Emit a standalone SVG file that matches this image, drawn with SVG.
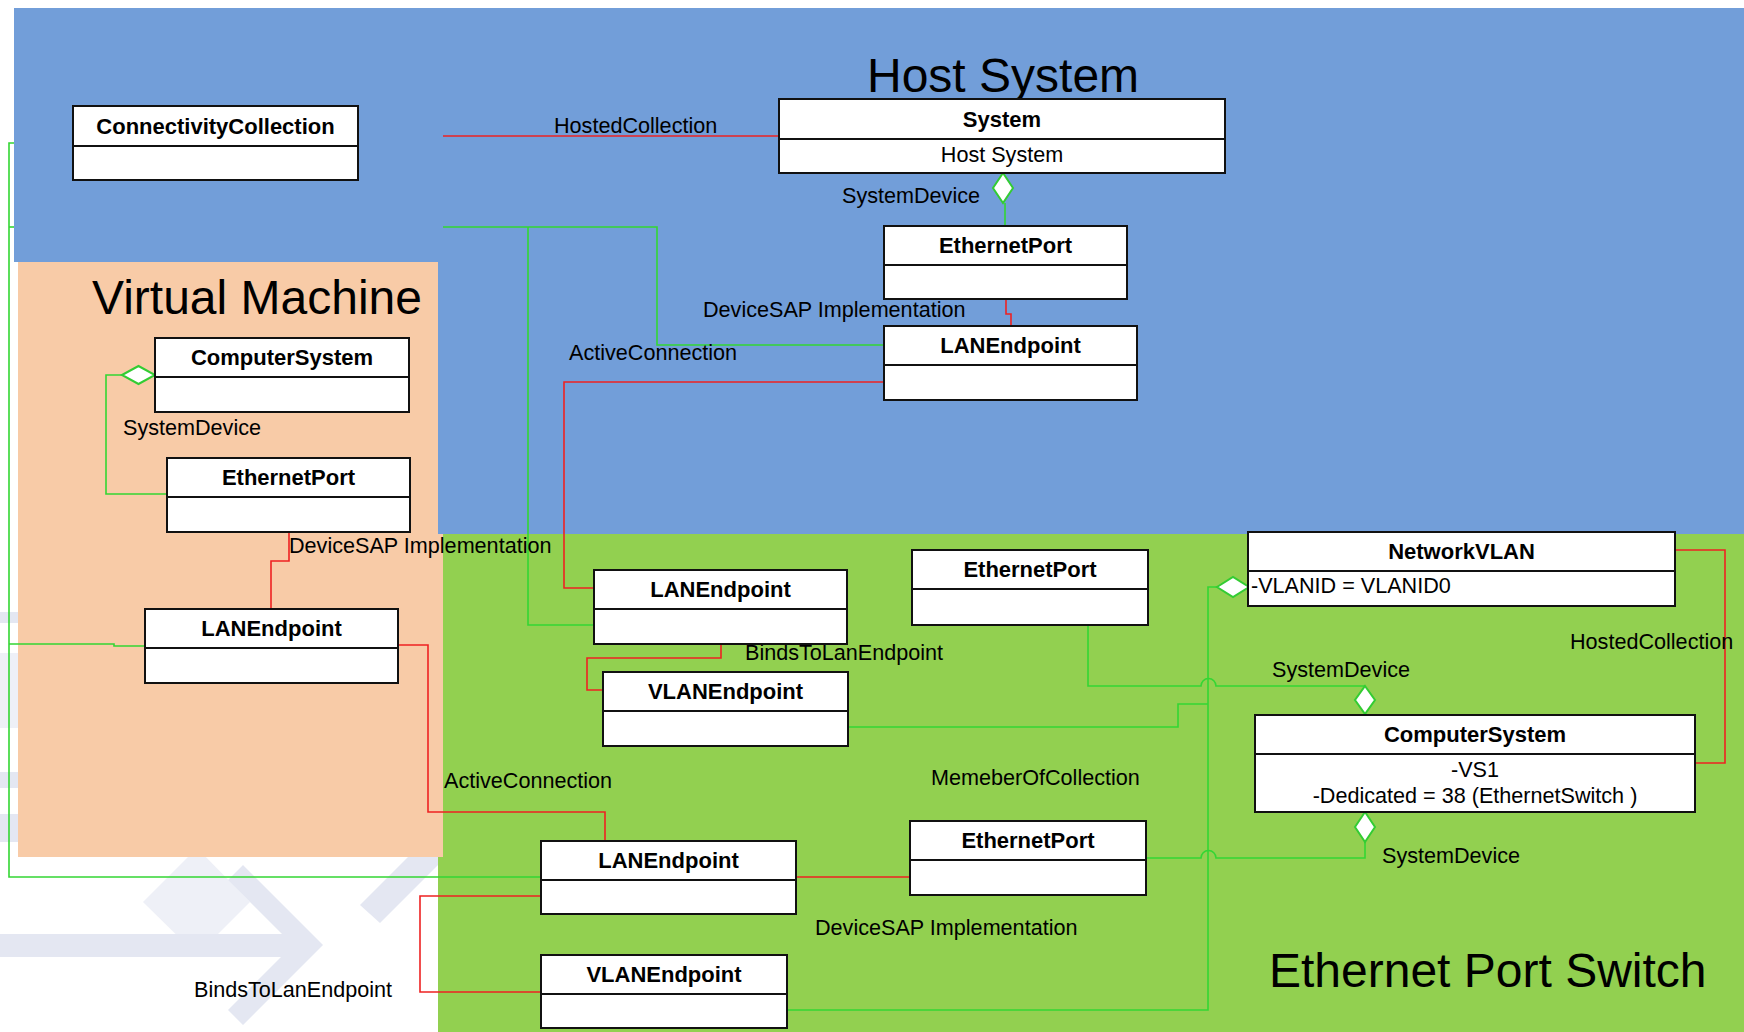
<svg xmlns="http://www.w3.org/2000/svg" width="1744" height="1032" viewBox="0 0 1744 1032">
<style>
.box{fill:#fff;stroke:#111;stroke-width:2}
.div{stroke:#111;stroke-width:2}
.hdr{font-family:"Liberation Sans",Arial,sans-serif;font-weight:bold;font-size:22px;fill:#000;text-anchor:middle}
.body{font-family:"Liberation Sans",Arial,sans-serif;font-size:21.6px;fill:#000}
.lbl{font-family:"Liberation Sans",Arial,sans-serif;font-size:21.6px;fill:#000}
.title{font-family:"Liberation Sans",Arial,sans-serif;font-size:48px;fill:#000}
.g{fill:none;stroke:#33d633;stroke-width:1.6}
.r{fill:none;stroke:#ee2222;stroke-width:1.6}
.dia{fill:#fff;stroke:#33cc33;stroke-width:2}
.wm{fill:#e4e7f2}
.wm2{fill:#eef0f7}
</style>
<rect x="0" y="0" width="1744" height="1032" fill="#fff"/>
<!-- watermark -->
<g id="watermark">
<rect class="wm" x="0" y="612" width="20" height="11"/>
<rect class="wm2" x="0" y="653" width="20" height="75"/>
<rect class="wm" x="0" y="772" width="20" height="16"/>
<rect class="wm" x="0" y="814" width="20" height="28"/>
<polygon class="wm2" points="143,902 197,848 250,902 197,955"/>
<rect class="wm" x="0" y="934" width="305" height="23"/>
<polygon class="wm" points="243,865 323,945 243,1025 228,1010 293,945 228,880"/>
<polygon class="wm" points="360,905 380,923 446,857 426,839"/>
</g>
<!-- regions -->
<polygon points="14,8 1744,8 1744,534 438,534 438,262 14,262" fill="#729ed9"/>
<rect x="438" y="534" width="1306" height="498" fill="#92d050"/>
<polygon points="18,262 438,262 438,534 443,534 443,857 18,857" fill="#f8cba7"/>
<text class="title" x="867" y="92">Host System</text>
<text class="title" x="92" y="314">Virtual Machine</text>
<text class="title" x="1269" y="987">Ethernet Port Switch</text>

<g id="connectors">
<path class="r" d="M443,136 H779"/>
<path class="g" d="M14,143 H9 V877 H541"/>
<path class="g" d="M14,227 H9"/>
<path class="g" d="M9,644 H114 V646 H145"/>
<path class="g" d="M1005,203 V226"/>
<path class="r" d="M1006,299 V314 H1011 V326"/>
<path class="g" d="M443,227 H657 V345 H884"/>
<path class="g" d="M528,227 V625 H594"/>
<path class="r" d="M884,382 H564 V588 H594"/>
<path class="g" d="M122,375 H106 V494 H167"/>
<path class="r" d="M289,532 V561 H271 V609"/>
<path class="r" d="M398,645 H428 V812 H605 V841"/>
<path class="r" d="M721,644 V658 H587 V690 H603"/>
<path class="g" d="M1088,625 V686 H1201 A7.5,7.5 0 0 1 1216,686 H1365"/>
<path class="g" d="M848,727 H1178 V704 H1208"/>
<path class="g" d="M1217,587 H1208 V1010 H787"/>
<path class="g" d="M1146,858 H1201 A7.5,7.5 0 0 1 1216,858 H1365 V842"/>
<path class="r" d="M1675,550 H1725 V763 H1695"/>
<path class="r" d="M796,877 H910"/>
<path class="r" d="M541,896 H420 V992 H541"/>
<polygon class="dia" points="1003,173 1013,188 1003,203 993,188"/>
<polygon class="dia" points="122,375 138.5,366 155,375 138.5,384"/>
<polygon class="dia" points="1217,587 1233,577 1249,587 1233,597"/>
<polygon class="dia" points="1365,686 1375,700 1365,714 1355,700"/>
<polygon class="dia" points="1365,812 1375,827 1365,842 1355,827"/>
<text class="lbl" x="554" y="133">HostedCollection</text>
<text class="lbl" x="842" y="203">SystemDevice</text>
<text class="lbl" x="703" y="317">DeviceSAP Implementation</text>
<text class="lbl" x="569" y="360">ActiveConnection</text>
<text class="lbl" x="123" y="435">SystemDevice</text>
<text class="lbl" x="289" y="553">DeviceSAP Implementation</text>
<text class="lbl" x="745" y="660">BindsToLanEndpoint</text>
<text class="lbl" x="1272" y="677">SystemDevice</text>
<text class="lbl" x="1570" y="649">HostedCollection</text>
<text class="lbl" x="931" y="785">MemeberOfCollection</text>
<text class="lbl" x="444" y="788">ActiveConnection</text>
<text class="lbl" x="1382" y="863">SystemDevice</text>
<text class="lbl" x="815" y="935">DeviceSAP Implementation</text>
<text class="lbl" x="194" y="997">BindsToLanEndpoint</text>
</g>

<g id="connectivityCollection">
<rect class="box" x="73" y="106" width="285" height="74"/>
<line class="div" x1="73" y1="146" x2="358" y2="146"/>
<text class="hdr" x="215.5" y="134">ConnectivityCollection</text>
</g>
<g id="system">
<rect class="box" x="779" y="99" width="446" height="74"/>
<line class="div" x1="779" y1="139" x2="1225" y2="139"/>
<text class="hdr" x="1002" y="127">System</text>
<text class="body" x="1002" y="162" text-anchor="middle">Host System</text>
</g>
<g id="hostEthernetPort">
<rect class="box" x="884" y="226" width="243" height="73"/>
<line class="div" x1="884" y1="265" x2="1127" y2="265"/>
<text class="hdr" x="1005.5" y="253">EthernetPort</text>
</g>
<g id="hostLANEndpoint">
<rect class="box" x="884" y="326" width="253" height="74"/>
<line class="div" x1="884" y1="365" x2="1137" y2="365"/>
<text class="hdr" x="1010.5" y="353">LANEndpoint</text>
</g>
<g id="vmComputerSystem">
<rect class="box" x="155" y="338" width="254" height="74"/>
<line class="div" x1="155" y1="377" x2="409" y2="377"/>
<text class="hdr" x="282" y="365">ComputerSystem</text>
</g>
<g id="vmEthernetPort">
<rect class="box" x="167" y="458" width="243" height="74"/>
<line class="div" x1="167" y1="497" x2="410" y2="497"/>
<text class="hdr" x="288.5" y="485">EthernetPort</text>
</g>
<g id="vmLANEndpoint">
<rect class="box" x="145" y="609" width="253" height="74"/>
<line class="div" x1="145" y1="648" x2="398" y2="648"/>
<text class="hdr" x="271.5" y="636">LANEndpoint</text>
</g>
<g id="swLANEndpoint1">
<rect class="box" x="594" y="570" width="253" height="74"/>
<line class="div" x1="594" y1="609" x2="847" y2="609"/>
<text class="hdr" x="720.5" y="597">LANEndpoint</text>
</g>
<g id="swVLANEndpoint1">
<rect class="box" x="603" y="672" width="245" height="74"/>
<line class="div" x1="603" y1="711" x2="848" y2="711"/>
<text class="hdr" x="725.5" y="699">VLANEndpoint</text>
</g>
<g id="swEthernetPort1">
<rect class="box" x="912" y="550" width="236" height="75"/>
<line class="div" x1="912" y1="589" x2="1148" y2="589"/>
<text class="hdr" x="1030" y="577">EthernetPort</text>
</g>
<g id="networkVLAN">
<rect class="box" x="1248" y="532" width="427" height="74"/>
<line class="div" x1="1248" y1="571" x2="1675" y2="571"/>
<text class="hdr" x="1461.5" y="559">NetworkVLAN</text>
<text class="body" x="1251" y="593">-VLANID = VLANID0</text>
</g>
<g id="swComputerSystem">
<rect class="box" x="1255" y="715" width="440" height="97"/>
<line class="div" x1="1255" y1="754" x2="1695" y2="754"/>
<text class="hdr" x="1475" y="742">ComputerSystem</text>
<text class="body" x="1475" y="777" text-anchor="middle">-VS1</text>
<text class="body" x="1475" y="803" text-anchor="middle">-Dedicated = 38 (EthernetSwitch )</text>
</g>
<g id="swLANEndpoint2">
<rect class="box" x="541" y="841" width="255" height="73"/>
<line class="div" x1="541" y1="880" x2="796" y2="880"/>
<text class="hdr" x="668.5" y="868">LANEndpoint</text>
</g>
<g id="swEthernetPort2">
<rect class="box" x="910" y="821" width="236" height="74"/>
<line class="div" x1="910" y1="860" x2="1146" y2="860"/>
<text class="hdr" x="1028" y="848">EthernetPort</text>
</g>
<g id="swVLANEndpoint2">
<rect class="box" x="541" y="955" width="246" height="73"/>
<line class="div" x1="541" y1="994" x2="787" y2="994"/>
<text class="hdr" x="664" y="982">VLANEndpoint</text>
</g>
</svg>
